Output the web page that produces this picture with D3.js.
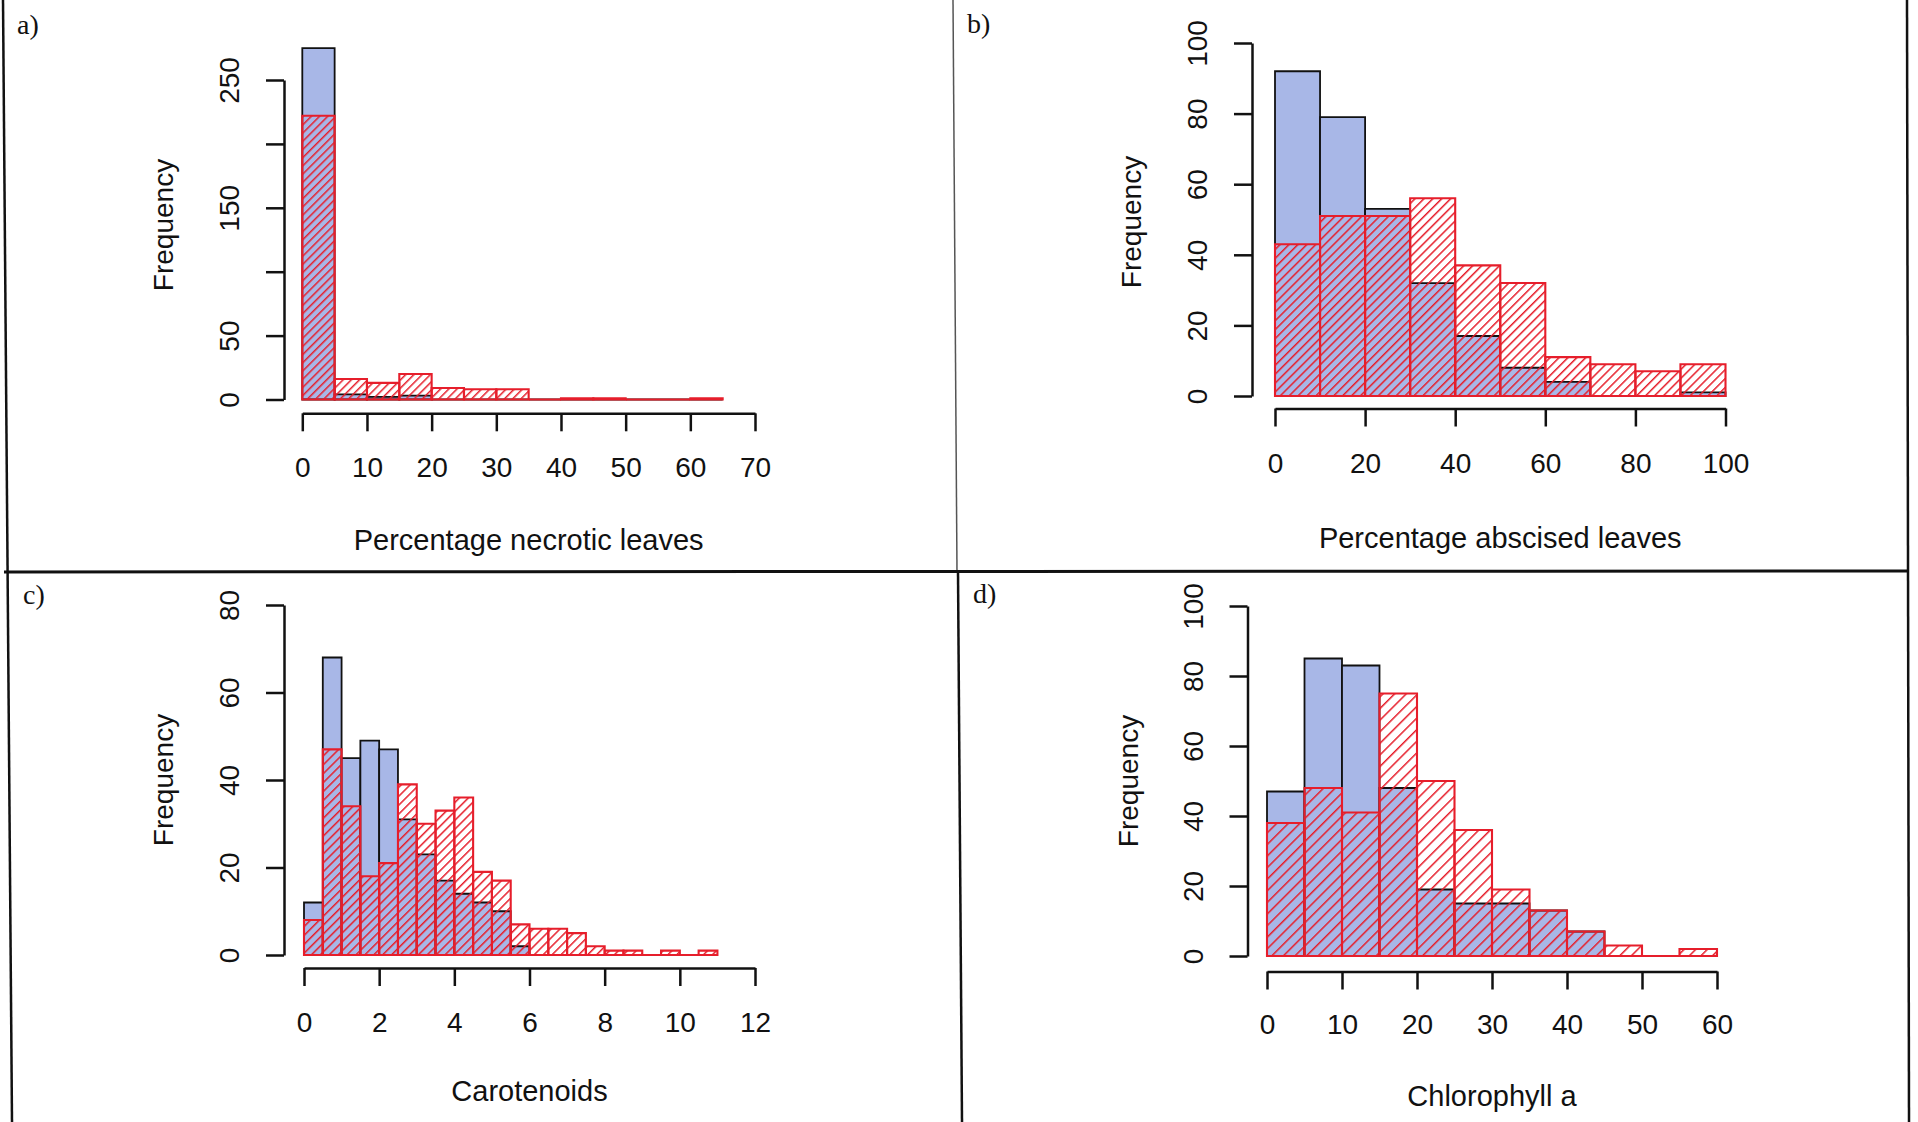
<!DOCTYPE html>
<html>
<head>
<meta charset="utf-8">
<script src="https://cdn.jsdelivr.net/npm/d3@7"></script>
<style>
  html, body { margin: 0; padding: 0; background: #fff; }
  svg { display: block; }
</style>
</head>
<body>
<div id="chart"></div>
<script>
// ---- Histogram data: bin edges and counts per group ----

// a) Percentage necrotic leaves
const necroticBreaks = [0, 5, 10, 15, 20, 25, 30, 35, 40, 45, 50, 55, 60, 65];
const necroticBlue   = [275, 4, 2, 3, 0, 0, 0, 0, 0, 0, 0, 0, 0];
const necroticRed    = [222, 16, 13, 20, 9, 8, 8, 0, 1, 1, 0, 0, 1];
const necroticXTicks = [0, 10, 20, 30, 40, 50, 60, 70];
const necroticYTicks = [0, 50, 100, 150, 200, 250];
const necroticYLabels = ["0", "50", "", "150", "", "250"];

// b) Percentage abscised leaves
const abscisedBreaks = [0, 10, 20, 30, 40, 50, 60, 70, 80, 90, 100];
const abscisedBlue   = [92, 79, 53, 32, 17, 8, 4, 0, 0, 1];
const abscisedRed    = [43, 51, 51, 56, 37, 32, 11, 9, 7, 9];
const abscisedXTicks = [0, 20, 40, 60, 80, 100];
const abscisedYTicks = [0, 20, 40, 60, 80, 100];
const abscisedYLabels = ["0", "20", "40", "60", "80", "100"];

// c) Carotenoids
const caroBreaks = [0, 0.5, 1, 1.5, 2, 2.5, 3, 3.5, 4, 4.5, 5, 5.5, 6, 6.5, 7, 7.5, 8, 8.5, 9, 9.5, 10, 10.5, 11];
const caroBlue   = [12, 68, 45, 49, 47, 31, 23, 17, 14, 12, 10, 2, 0, 0, 0, 0, 0, 0, 0, 0, 0, 0];
const caroRed    = [8, 47, 34, 18, 21, 39, 30, 33, 36, 19, 17, 7, 6, 6, 5, 2, 1, 1, 0, 1, 0, 1];
const caroXTicks = [0, 2, 4, 6, 8, 10, 12];
const caroYTicks = [0, 20, 40, 60, 80];
const caroYLabels = ["0", "20", "40", "60", "80"];

// d) Chlorophyll a
const chloBreaks = [0, 5, 10, 15, 20, 25, 30, 35, 40, 45, 50, 55, 60];
const chloBlue   = [47, 85, 83, 48, 19, 15, 15, 13, 7, 0, 0, 0];
const chloRed    = [38, 48, 41, 75, 50, 36, 19, 13, 7, 3, 0, 2];
const chloXTicks = [0, 10, 20, 30, 40, 50, 60];
const chloYTicks = [0, 20, 40, 60, 80, 100];
const chloYLabels = ["0", "20", "40", "60", "80", "100"];

// ---- Styling ----
const W = 1918, H = 1122;
const BLUE = "#a8b7e7";
const RED = "#e61e2b";
const INK = "#111";
const SANS = "'Liberation Sans', Arial, Helvetica, sans-serif";
const SERIF = "'Liberation Serif', 'Times New Roman', serif";

const svg = d3.select("#chart").append("svg")
  .attr("width", W).attr("height", H)
  .attr("viewBox", `0 0 ${W} ${H}`);
svg.append("rect").attr("width", W).attr("height", H).attr("fill", "#fff");

const defs = svg.append("defs");
function hatch(id, spacing) {
  const p = defs.append("pattern")
    .attr("id", id)
    .attr("patternUnits", "userSpaceOnUse")
    .attr("width", spacing).attr("height", 20)
    .attr("patternTransform", "rotate(45)");
  p.append("rect").attr("x", 0).attr("y", 0)
    .attr("width", 1.5).attr("height", 20).attr("fill", RED);
}

// Panel frames
const frame = svg.append("g").attr("stroke", INK).attr("fill", "none");
frame.append("line").attr("x1", 3).attr("y1", 0).attr("x2", 12).attr("y2", H).attr("stroke-width", 2.5);
frame.append("line").attr("x1", 953).attr("y1", 0).attr("x2", 957).attr("y2", 572).attr("stroke-width", 1.5).attr("stroke", "#555");
frame.append("line").attr("x1", 958).attr("y1", 572).attr("x2", 962).attr("y2", H).attr("stroke-width", 2.5);
frame.append("line").attr("x1", 1907).attr("y1", 0).attr("x2", 1909).attr("y2", H).attr("stroke-width", 2.5);
frame.append("line").attr("x1", 4).attr("y1", 572).attr("x2", 1909).attr("y2", 571).attr("stroke-width", 3);

const panels = [
  {
    tag: "a)", tagX: 17, tagY: 34, hatchId: "hatchA", spacing: 5.8,
    breaks: necroticBreaks, blue: necroticBlue, red: necroticRed,
    xTicks: necroticXTicks, yTicks: necroticYTicks, yLabels: necroticYLabels,
    xDomain: [0, 70], xRange: [302.3, 755],
    yDomain: [0, 250], yRange: [399.5, 80],
    yAxisX: 284, xAxisY: 413.3, xLabY: 477, titleY: 550,
    title: "Percentage necrotic leaves", freqX: 173, freqY: 225
  },
  {
    tag: "b)", tagX: 967, tagY: 33, hatchId: "hatchB", spacing: 6.3,
    breaks: abscisedBreaks, blue: abscisedBlue, red: abscisedRed,
    xTicks: abscisedXTicks, yTicks: abscisedYTicks, yLabels: abscisedYLabels,
    xDomain: [0, 100], xRange: [1275, 1725.5],
    yDomain: [0, 100], yRange: [396, 43],
    yAxisX: 1252, xAxisY: 408.5, xLabY: 473, titleY: 548,
    title: "Percentage abscised leaves", freqX: 1141, freqY: 222
  },
  {
    tag: "c)", tagX: 23, tagY: 604, hatchId: "hatchC", spacing: 6.3,
    breaks: caroBreaks, blue: caroBlue, red: caroRed,
    xTicks: caroXTicks, yTicks: caroYTicks, yLabels: caroYLabels,
    xDomain: [0, 12], xRange: [304, 755],
    yDomain: [0, 80], yRange: [955, 605],
    yAxisX: 284, xAxisY: 968, xLabY: 1032, titleY: 1101,
    title: "Carotenoids", freqX: 173, freqY: 780
  },
  {
    tag: "d)", tagX: 973, tagY: 603, hatchId: "hatchD", spacing: 8.2,
    breaks: chloBreaks, blue: chloBlue, red: chloRed,
    xTicks: chloXTicks, yTicks: chloYTicks, yLabels: chloYLabels,
    xDomain: [0, 60], xRange: [1267, 1717],
    yDomain: [0, 100], yRange: [956, 606],
    yAxisX: 1247.5, xAxisY: 971.5, xLabY: 1034, titleY: 1106,
    title: "Chlorophyll a", freqX: 1138, freqY: 781
  }
];

function toBins(breaks, counts) {
  return counts.map((n, i) => ({ x0: breaks[i], x1: breaks[i + 1], n }));
}

// Closed outline of one histogram bar; empty bins collapse to a flat line on the baseline
function barPath(x, y) {
  return d => {
    const l = x(d.x0), r = x(d.x1), b = y(0), t = y(d.n);
    return `M${l},${b}V${t}H${r}V${b}Z`;
  };
}

panels.forEach(p => {
  hatch(p.hatchId, p.spacing);
  const x = d3.scaleLinear().domain(p.xDomain).range(p.xRange);
  const y = d3.scaleLinear().domain(p.yDomain).range(p.yRange);
  const g = svg.append("g");

  // First group: solid blue bars with black outline
  g.append("g").selectAll("path")
    .data(toBins(p.breaks, p.blue))
    .join("path")
      .attr("d", barPath(x, y))
      .attr("fill", BLUE)
      .attr("stroke", INK)
      .attr("stroke-width", 1.8);

  // Second group: red hatched bars drawn on top
  g.append("g").selectAll("path")
    .data(toBins(p.breaks, p.red))
    .join("path")
      .attr("d", barPath(x, y))
      .attr("fill", `url(#${p.hatchId})`)
      .attr("stroke", RED)
      .attr("stroke-width", 2.1);

  // Y axis with rotated tick labels
  const yAxis = g.append("g")
    .attr("transform", `translate(${p.yAxisX},0)`)
    .call(d3.axisLeft(y).tickValues(p.yTicks).tickSize(18).tickSizeOuter(0)
      .tickFormat((d, i) => p.yLabels[i]));
  yAxis.selectAll("path, line").attr("stroke", INK).attr("stroke-width", 2.5);
  yAxis.selectAll("text")
    .attr("transform", "rotate(-90)")
    .attr("x", 0).attr("y", -45).attr("dy", 0)
    .attr("text-anchor", "middle")
    .attr("fill", INK)
    .style("font-family", SANS).style("font-size", "28px");

  // X axis
  const xAxis = g.append("g")
    .attr("transform", `translate(0,${p.xAxisY})`)
    .call(d3.axisBottom(x).tickValues(p.xTicks).tickSize(18).tickSizeOuter(0)
      .tickFormat(d3.format("d")));
  xAxis.selectAll("path, line").attr("stroke", INK).attr("stroke-width", 2.5);
  xAxis.selectAll("text")
    .attr("y", p.xLabY - p.xAxisY).attr("dy", 0)
    .attr("fill", INK)
    .style("font-family", SANS).style("font-size", "28px");

  // Axis titles
  g.append("text")
    .attr("x", (p.xRange[0] + p.xRange[1]) / 2).attr("y", p.titleY)
    .attr("text-anchor", "middle")
    .attr("fill", INK)
    .style("font-family", SANS).style("font-size", "29px")
    .text(p.title);
  g.append("text")
    .attr("transform", `translate(${p.freqX},${p.freqY}) rotate(-90)`)
    .attr("text-anchor", "middle")
    .attr("fill", INK)
    .style("font-family", SANS).style("font-size", "28px")
    .text("Frequency");

  // Panel letter
  g.append("text")
    .attr("x", p.tagX).attr("y", p.tagY)
    .attr("fill", INK)
    .style("font-family", SERIF).style("font-size", "28px")
    .text(p.tag);
});
</script>
</body>
</html>
